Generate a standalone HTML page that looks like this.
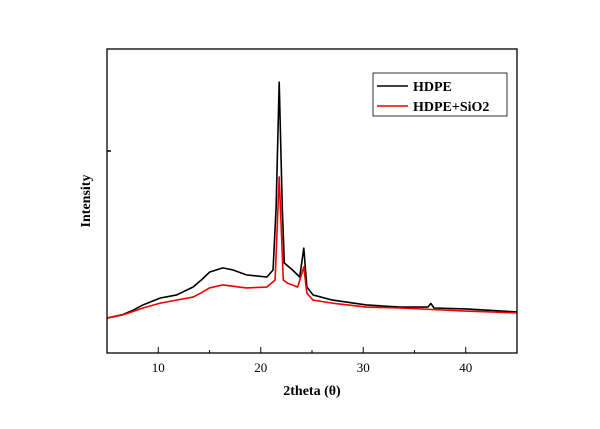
<!DOCTYPE html>
<html><head><meta charset="utf-8"><style>
body{margin:0;background:#fff;}
svg text{font-family:"Liberation Serif",serif;}
</style></head><body>
<svg width="600" height="424" viewBox="0 0 600 424">
<g id="plot"></g>
</svg>
<script>
const xTicks=[10,20,30,40];
const xMinor=[15,25,35];
const hdpeX=[5,6.5,7.5,8.5,10.2,11.8,13.4,14.3,15,16.3,17.3,18.6,20.6,21.2,21.5,21.8,22.1,22.3,23.1,23.8,24.2,24.5,25.1,27,30.3,33.6,36.3,36.6,36.9,40,45];
const hdpeY=[11.5,12.6,14.0,15.8,18.1,19.1,21.7,24.3,26.6,28.0,27.3,25.7,25.0,27.3,48,89.1,48,29.6,27.3,25,34.5,21.7,19.1,17.4,15.8,15.1,15.1,16.3,14.8,14.5,13.5];
const sioX=[5,6.5,7.5,8.5,10.2,13.4,14.3,15,16.3,18.6,20.6,21.4,21.8,22.2,22.6,23.6,24.2,24.5,25.1,27,30.3,33.6,40,45];
const sioY=[11.5,12.5,13.6,14.8,16.4,18.4,20.0,21.4,22.4,21.4,21.7,24,57.9,24,23,21.7,28.3,19.7,17.4,16.4,15.1,14.8,13.8,13.2];
const L=107,R=517,T=49,B=353;
const sx=v=>L+(v-5)/40*(R-L);
const sy=v=>B-v/100*(B-T);
const NS="http://www.w3.org/2000/svg";
const g=document.getElementById('plot');
function mk(tag,attrs){const e=document.createElementNS(NS,tag);for(const k in attrs)e.setAttribute(k,attrs[k]);g.appendChild(e);return e;}
function series(xs,ys,color,name){
  const p=mk('polyline',{points:xs.map((x,i)=>sx(x)+','+sy(ys[i])).join(' '),fill:'none',stroke:color,'stroke-width':1.6,'stroke-linejoin':'round'});
  
  
}
series(hdpeX,hdpeY,'#000','hdpe-line');
series(sioX,sioY,'#e00','hdpe-sio2-line');
const frame=mk('rect',{x:L,y:T,width:R-L,height:B-T,fill:'none',stroke:'#000','stroke-width':1.3});


xTicks.forEach(t=>{
  const l=mk('line',{x1:sx(t),x2:sx(t),y1:B,y2:B-6,stroke:'#000','stroke-width':1});
  
  
  const tx=mk('text',{x:sx(t),y:372,'text-anchor':'middle','font-size':13});
  tx.textContent=t;
  
  
});
xMinor.forEach(t=>{
  const l=mk('line',{x1:sx(t),x2:sx(t),y1:B,y2:B-3,stroke:'#000','stroke-width':1});
  
  
});
const yt=mk('line',{x1:L,x2:L+4,y1:151,y2:151,stroke:'#000','stroke-width':1.5});


const xt=mk('text',{x:312,y:395,'text-anchor':'middle','font-size':14,'font-weight':'bold'});
xt.textContent='2theta (θ)';


const ytl=mk('text',{x:90,y:201,'text-anchor':'middle','font-size':14,'font-weight':'bold',transform:'rotate(-90 90 201)'});
ytl.textContent='Intensity';


const lb=mk('rect',{x:373,y:73,width:134,height:43,fill:'#fff',stroke:'#000','stroke-width':0.8});


[['HDPE','#000',86],['HDPE+SiO2','#e00',106]].forEach(([n,c,y])=>{
  const l=mk('line',{x1:377,x2:408,y1:y,y2:y,stroke:c,'stroke-width':1.6});
  
  
  const t=mk('text',{x:413,y:y+5,'font-size':14,'font-weight':'bold'});
  t.textContent=n;
  
  
});
</script>
</body></html>
